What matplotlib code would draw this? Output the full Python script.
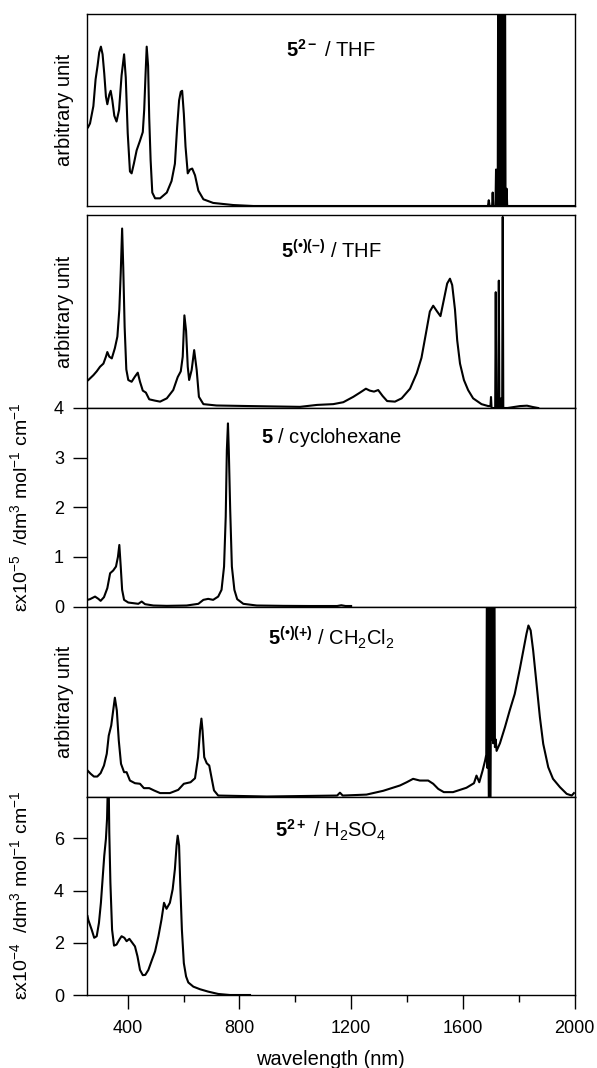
import matplotlib
matplotlib.use("Agg")
import matplotlib.pyplot as plt

plt.rcParams["font.family"] = ["Liberation Sans", "DejaVu Sans"]
plt.rcParams["mathtext.fontset"] = "custom"
plt.rcParams["mathtext.rm"] = "Liberation Sans"
plt.rcParams["mathtext.it"] = "Liberation Sans:italic"
plt.rcParams["mathtext.bf"] = "Liberation Sans:bold"

# --- spectra (wavelength in nm) ---

# 5^2- in THF (arbitrary unit, 0..1 = panel height)
dianion_nm = [258, 265, 277, 285, 292, 298, 304, 310, 316, 322,
              327, 334, 339, 345, 352, 360, 369, 378, 387, 393,
              400, 408, 414, 422, 432, 444, 454, 459, 464, 468,
              473, 477, 482, 488, 498, 516, 540, 557, 569, 577,
              584, 590, 595, 601, 607, 615, 623, 631, 641, 653,
              671, 706, 778, 850,
              1690, 1693, 1696, 1705, 1707, 1709, 1717, 1719, 1721, 1725,
              1727, 1729, 1734, 1736, 1738, 1741, 1743, 1745, 1749, 1751,
              1753, 1755, 1757, 1759, 2000]
dianion_au = [0.41, 0.43, 0.52, 0.66, 0.73, 0.80, 0.83, 0.79, 0.69, 0.57,
              0.53, 0.58, 0.60, 0.55, 0.47, 0.44, 0.50, 0.68, 0.79, 0.67,
              0.38, 0.18, 0.17, 0.22, 0.29, 0.34, 0.385, 0.50, 0.69, 0.83,
              0.73, 0.46, 0.24, 0.07, 0.04, 0.04, 0.07, 0.13, 0.22, 0.41,
              0.55, 0.595, 0.60, 0.48, 0.31, 0.17, 0.19, 0.195, 0.16, 0.08,
              0.035, 0.016, 0.005, 0.0,
              0.0, 0.03, 0.0, 0.0, 0.07, 0.0, 0.0, 0.19, 0.0, 0.0,
              1.5, 0.0, 0.0, 1.5, 0.0, 0.0, 1.5, 0.0, 0.0, 1.5,
              0.0, 0.0, 0.09, 0.0, 0.0]

# 5(.)(-) in THF
radanion_nm = [259, 277, 289, 301, 313, 322, 327, 334, 343, 354,
               363, 370, 375, 380, 384, 389, 395, 402, 414, 426,
               436, 444, 454, 465, 477, 498, 516, 540, 563, 579,
               590, 597, 603, 609, 615, 620, 629, 638, 647, 655,
               671, 718, 838, 1017, 1078, 1136, 1172, 1208, 1232, 1253,
               1267, 1282, 1297, 1313, 1329, 1357, 1381, 1411, 1435, 1452,
               1468, 1482, 1494, 1508, 1520, 1532, 1544, 1554, 1562, 1572,
               1580, 1590, 1604, 1619, 1637, 1667, 1691,
               1699, 1701, 1703, 1716, 1718, 1720, 1727, 1729, 1731, 1735,
               1737, 1739, 1741, 1743, 1745, 1760, 1805, 1830, 1851, 1870]
radanion_au = [0.145, 0.17, 0.19, 0.214, 0.23, 0.266, 0.29, 0.266, 0.257, 0.31,
               0.37, 0.51, 0.70, 0.93, 0.73, 0.42, 0.20, 0.145, 0.136, 0.163,
               0.183, 0.136, 0.09, 0.08, 0.045, 0.038, 0.033, 0.05, 0.093, 0.16,
               0.19, 0.266, 0.48, 0.40, 0.214, 0.145, 0.197, 0.30, 0.197, 0.058,
               0.02, 0.013, 0.01, 0.006, 0.016, 0.02, 0.03, 0.058, 0.08, 0.10,
               0.09, 0.085, 0.093, 0.062, 0.036, 0.033, 0.05, 0.10, 0.18, 0.26,
               0.387, 0.50, 0.53, 0.50, 0.476, 0.56, 0.645, 0.67, 0.637, 0.51,
               0.35, 0.23, 0.145, 0.093, 0.05, 0.02, 0.01,
               0.01, 0.057, 0.0, 0.0, 0.60, 0.0, 0.0, 0.66, 0.0, 0.0,
               0.05, 0.0, 0.0, 0.99, 0.0, 0.0, 0.01, 0.012, 0.005, 0.0]

# 5 in cyclohexane (eps x 1e-5)
neutral_nm = [256, 265, 283, 295, 303, 315, 327, 337, 348, 358,
              365, 370, 375, 380, 387, 402, 420, 438, 450, 462,
              492, 540, 611, 653, 671, 688, 706, 724, 736, 745,
              751, 755, 759, 762, 767, 773, 782, 792, 814, 862,
              957, 1050, 1150, 1165, 1180, 1200]
neutral_eps = [0.134, 0.148, 0.20, 0.154, 0.114, 0.188, 0.37, 0.67, 0.725, 0.805,
               1.0, 1.24, 0.805, 0.336, 0.134, 0.08, 0.067, 0.054, 0.10, 0.047,
               0.02, 0.013, 0.02, 0.054, 0.134, 0.154, 0.134, 0.20, 0.336, 0.805,
               1.81, 3.15, 3.69, 3.15, 1.95, 0.805, 0.336, 0.148, 0.054, 0.02,
               0.013, 0.01, 0.01, 0.025, 0.01, 0.01]

# 5(.)(+) in CH2Cl2
radcation_nm = [256, 267, 279, 291, 303, 315, 325, 332, 341, 348,
                354, 361, 368, 376, 387, 396, 408, 426, 444, 458,
                477, 494, 516, 551, 581, 601, 625, 641, 652, 659,
                664, 668, 674, 683, 692, 701, 709, 724, 898, 1150,
                1160, 1170, 1255, 1315, 1375, 1399, 1422, 1446, 1476, 1494,
                1512, 1532, 1565, 1613, 1640, 1649, 1659, 1671, 1680,
                1684, 1687, 1688, 1690, 1692, 1694, 1696, 1698, 1700, 1702,
                1704, 1707, 1709, 1713, 1715, 1718,
                1721, 1733, 1751, 1768, 1786, 1804, 1819, 1828, 1835, 1843,
                1852, 1864, 1876, 1888, 1906, 1923, 1948, 1972, 1990, 1998]
radcation_au = [0.137, 0.12, 0.105, 0.105, 0.123, 0.163, 0.225, 0.32, 0.374, 0.453,
                0.52, 0.453, 0.295, 0.172, 0.128, 0.128, 0.084, 0.07, 0.067, 0.044,
                0.044, 0.032, 0.018, 0.018, 0.035, 0.067, 0.075, 0.096, 0.207, 0.347,
                0.41, 0.347, 0.207, 0.175, 0.163, 0.093, 0.032, 0.005, 0.0, 0.005,
                0.02, 0.005, 0.01, 0.03, 0.058, 0.075, 0.093, 0.084, 0.084, 0.067,
                0.04, 0.023, 0.023, 0.046, 0.07, 0.11, 0.075, 0.137, 0.19,
                0.22, 1.4, 0.15, 1.4, 0.25, -0.2, 1.4, -0.2, 0.3, 1.4,
                0.3, 1.4, 0.28, 1.4, 0.26, 0.30,
                0.24, 0.28, 0.365, 0.453, 0.54, 0.67, 0.786, 0.856, 0.90, 0.874,
                0.768, 0.593, 0.418, 0.277, 0.154, 0.093, 0.049, 0.014, 0.005, 0.018]

# 5^2+ in H2SO4 (eps x 1e-4)
dication_nm = [256, 259, 271, 280, 289, 297, 304, 310, 316, 322,
               326, 328, 332, 334, 338, 344, 351, 360, 370, 378,
               388, 396, 406, 415, 426, 435, 444, 454, 463, 474,
               486, 498, 510, 521, 530, 539, 551, 561, 569, 575,
               579, 584, 588, 594, 601, 609, 617, 635, 659, 688,
               724, 766, 838]
dication_eps = [3.02, 2.87, 2.5, 2.19, 2.25, 2.76, 3.53, 4.43, 5.33, 5.98,
                6.75, 7.65, 8.0, 6.23, 4.3, 2.5, 1.89, 1.93, 2.12, 2.25,
                2.19, 2.06, 2.15, 2.02, 1.86, 1.48, 0.96, 0.76, 0.77, 0.96,
                1.32, 1.67, 2.25, 2.89, 3.53, 3.3, 3.53, 4.05, 4.82, 5.72,
                6.1, 5.72, 4.3, 2.5, 1.22, 0.71, 0.48, 0.32, 0.22, 0.13,
                0.04, 0.0, 0.0]

major_ticks = [400, 800, 1200, 1600, 2000]
minor_ticks = [600, 1000, 1400, 1800]

W, H = 597, 1068
fig = plt.figure(figsize=(W / 100, H / 100), dpi=100)

left, right = 87.5, 574.5
# (top, bottom) in pixels for each panel
rows = [(14, 206), (215, 408), (408, 606.5), (606.5, 796.5), (796.5, 995)]

panels = [
    (dianion_nm, dianion_au, (0, 1), r"$\mathbf{5^{2-}}$ / THF", 0.776, None),
    (radanion_nm, radanion_au, (0, 1), r"$\mathbf{5^{(•)(–)}}$ / THF", 0.777, None),
    (neutral_nm, neutral_eps, (0, 4), r"$\mathbf{5}$ / cyclohexane", 0.824, [0, 1, 2, 3, 4]),
    (radcation_nm, radcation_au, (0, 1), r"$\mathbf{5^{(•)(+)}}$ / CH$_2$Cl$_2$", 0.797, None),
    (dication_nm, dication_eps, (0, 7.6), r"$\mathbf{5^{2+}}$ / H$_2$SO$_4$", 0.791, [0, 2, 4, 6]),
]

axes = []
for (top, bottom), (x, y, ylim, title, ty, yticks) in zip(rows, panels):
    ax = fig.add_axes([left / W, (H - bottom) / H, (right - left) / W, (bottom - top) / H])
    ax.plot(x, y, color="black", linewidth=1.5, solid_joinstyle="round")
    ax.set_xlim(256, 2000)
    ax.set_ylim(*ylim)
    for sp in ax.spines.values():
        sp.set_linewidth(1.0)
    ax.text(0.5, ty, title, transform=ax.transAxes, ha="center", va="baseline",
            fontsize=14.5)
    if yticks is None:
        ax.set_yticks([])
    else:
        ax.set_yticks(yticks)
        ax.tick_params(axis="y", direction="out", length=10, width=1.0, pad=7,
                       labelsize=13)
    ax.set_xticks([])
    axes.append(ax)

bottom_ax = axes[-1]
bottom_ax.set_xticks(major_ticks)
bottom_ax.set_xticks(minor_ticks, minor=True)
bottom_ax.tick_params(axis="x", which="major", direction="out", length=10, width=1.0,
                      pad=8, labelsize=13)
bottom_ax.tick_params(axis="x", which="minor", direction="out", length=5, width=1.0)

# y-axis labels
for top, bottom in (rows[0], rows[1], rows[3]):
    fig.text(64 / W, 1 - (top + bottom) / 2 / H, "arbitrary unit", rotation=90,
             ha="center", va="center", fontsize=14.5)
fig.text(20 / W, 1 - (rows[2][0] + rows[2][1]) / 2 / H,
         r"εx10$^{-5}$  /dm$^{3}$ mol$^{-1}$ cm$^{-1}$", rotation=90,
         ha="center", va="center", fontsize=14)
fig.text(20 / W, 1 - (rows[4][0] + rows[4][1]) / 2 / H,
         r"εx10$^{-4}$  /dm$^{3}$ mol$^{-1}$ cm$^{-1}$", rotation=90,
         ha="center", va="center", fontsize=14)

fig.text(330 / W, 1 - 1065 / H, "wavelength (nm)", ha="center", va="baseline",
         fontsize=14.5)

fig.savefig("out.png", dpi=100)
